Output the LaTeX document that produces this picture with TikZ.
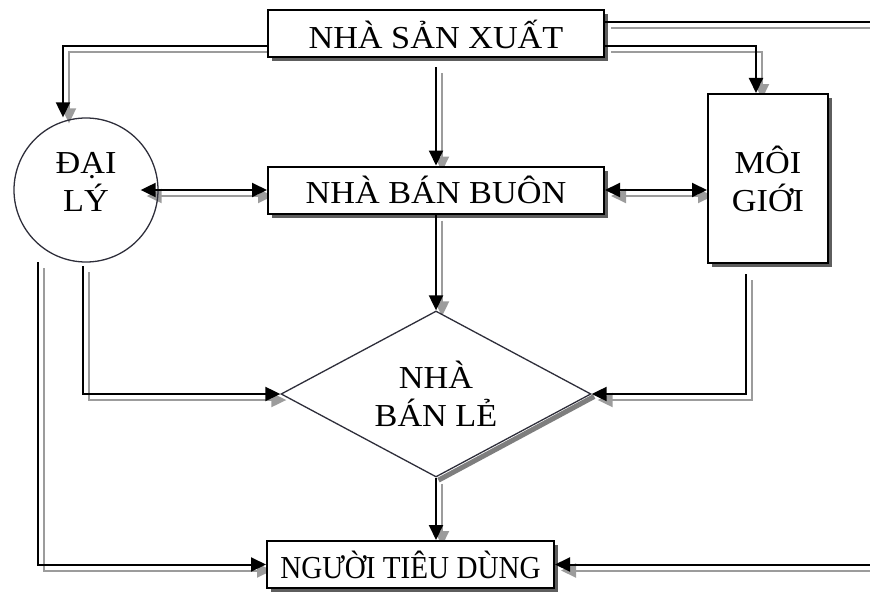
\documentclass[tikz,border=0pt]{standalone}
\usepackage{fontspec}
\setmainfont{Liberation Serif}[FakeStretch=1.07]
\newfontfamily\tightserif{Liberation Serif}[FakeStretch=0.91]
\usetikzlibrary{arrows.meta,shapes.geometric,shadows}
\pgfdeclarelayer{background}
\pgfsetlayers{background,main}

\definecolor{boxshade}{HTML}{5E5E5E}
\definecolor{linkshade}{HTML}{9C9C9C}
\definecolor{rim}{HTML}{2E2E3A}

\newcommand\boxfont{\fontsize{32}{38}\selectfont}

\tikzset{
  box/.style={draw=black, line width=2pt, fill=white, inner sep=0pt,
    font=\boxfont, align=center,
    drop shadow={shadow xshift=4pt, shadow yshift=-4pt, fill=boxshade, opacity=1}},
  ring/.style={circle, draw=rim, line width=1.3pt, inner sep=0pt,
    font=\boxfont, align=center},
  rhomb/.style={diamond, shape aspect=1.87, draw=rim, line width=1.3pt, fill=white, inner sep=0pt,
    font=\boxfont, align=center},
  tipend/.style={-{Triangle[length=15pt,width=14pt]}},
  tipboth/.style={{Triangle[length=15pt,width=14pt]}-{Triangle[length=15pt,width=14pt]}},
  linkmain/.style={draw=black, line width=2pt, tipend},
  linkshadow/.style={draw=linkshade, line width=2pt, tipend,
    transform canvas={xshift=6pt, yshift=-6pt}},
}

% a connector with its grey offset shadow underneath
\newcommand\link[2][]{%
  \begin{pgfonlayer}{background}\draw[linkshadow,#1] #2;\end{pgfonlayer}
  \draw[linkmain,#1] #2;}

\begin{document}
\begin{tikzpicture}[x=1pt,y=-1pt]
\clip (0,0) rectangle (870,594);

% nodes
\node[box, minimum width=336pt, minimum height=47pt] (prod) at (436,34) {NHÀ SẢN XUẤT};
\node[box, minimum width=336pt, minimum height=47pt] (whole) at (436,190) {NHÀ BÁN BUÔN};
\node[ring, minimum size=144pt, text depth=17pt] (agent) at (86,190) {ĐẠI\\LÝ};
\node[box, minimum width=120pt, minimum height=169pt] (broker) at (768,178.5) {MÔI\\GIỚI};
\node[rhomb, minimum width=310pt, minimum height=166pt] (retail) at (436,394) {NHÀ\\BÁN LẺ};
\node[box, minimum width=287pt, minimum height=47pt, font=\boxfont\tightserif] (cons) at (410.5,564.5) {NGƯỜI TIÊU DÙNG};

% shadow along the lower right edge of the diamond
\begin{pgfonlayer}{background}
\draw[boxshade!80!white, line width=5pt] ([shift={(2.5,2.5)}]retail.east) -- ([shift={(2.5,2.5)}]retail.south);
\end{pgfonlayer}

% free ends of connectors
\coordinate (agentnear) at (83,266);
\coordinate (agentfar) at (38,262);
\coordinate (brokerout) at (746,274);

% connectors
\link{(prod.west |- 0,46) -| (agent.north -| 63,0)}
\link{([yshift=-9pt]prod.south) -- (whole.north)}
\link{(prod.east |- 0,22) -| (cons.east -| 900,0) -- (cons.east)}
\link{(prod.east |- 0,46) -| (broker.north -| 756,0)}
\link[tipboth]{([xshift=-18pt]agent.east) -- (whole.west)}
\link[tipboth]{(whole.east) -- (broker.west |- whole.east)}
\link{(whole.south) -- (retail.north)}
\link{(agentnear) |- (retail.west)}
\link{(agentfar) |- (cons.west)}
\link{(brokerout) |- (retail.east)}
\link{(retail.south) -- (retail.south |- cons.north)}
\end{tikzpicture}
\end{document}
